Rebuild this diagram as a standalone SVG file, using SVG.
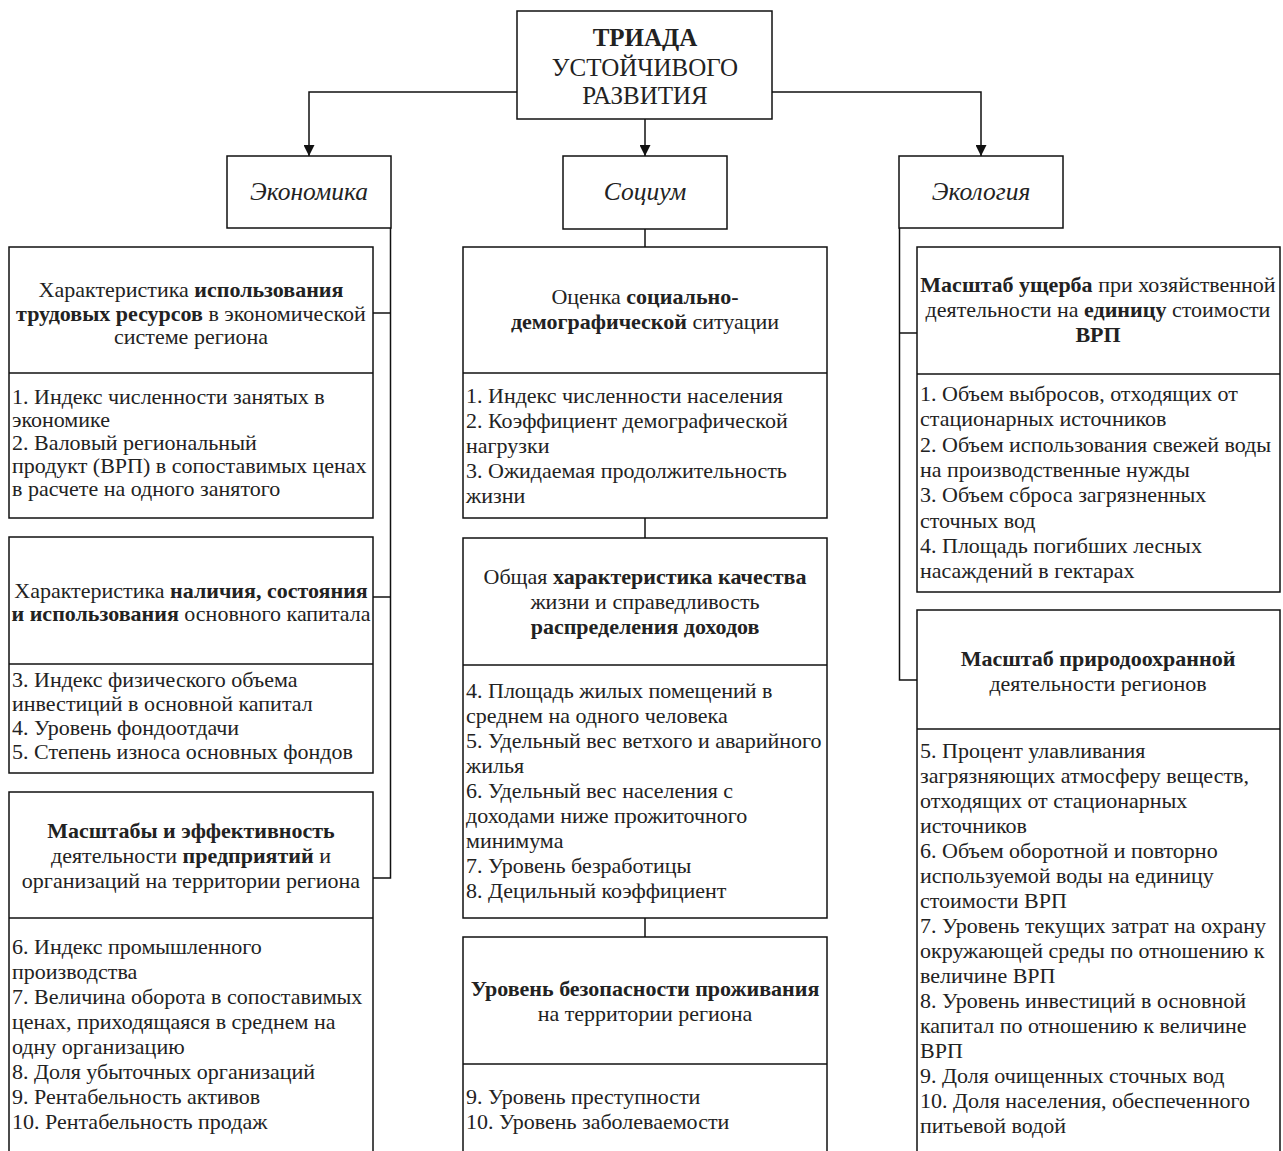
<svg xmlns="http://www.w3.org/2000/svg" width="1283" height="1151" viewBox="0 0 1283 1151">
<defs>
<style>
.box{fill:#fff;stroke:#111;stroke-width:1.5}
.div{stroke:#111;stroke-width:1.5}
.ln{fill:none;stroke:#111;stroke-width:1.5}
text{font-family:"Liberation Serif","Times New Roman",serif;fill:#222}
.t{font-size:22px;text-anchor:middle}
.i{font-size:22px}
.b{font-weight:bold}
.cat{font-size:25.5px;font-style:italic;text-anchor:middle}
.top{font-size:25px;text-anchor:middle}
</style>
<marker id="arr" viewBox="0 0 10 10" refX="10" refY="5" markerWidth="11" markerHeight="11" markerUnits="userSpaceOnUse" orient="auto">
<path d="M0,0 L10,5 L0,10 Z" fill="#111"/>
</marker>
</defs>
<rect width="1283" height="1151" fill="#fff"/>

<g id="connectors">
<path class="ln" d="M517,92 H309 V156" marker-end="url(#arr)"/>
<path class="ln" d="M645,119 V156" marker-end="url(#arr)"/>
<path class="ln" d="M772,92 H981 V156" marker-end="url(#arr)"/>
<path class="ln" d="M390.5,228 V878 H373"/>
<path class="ln" d="M373,313 H390.5"/>
<path class="ln" d="M373,597 H390.5"/>
<path class="ln" d="M645,229 V247"/>
<path class="ln" d="M645,518 V538"/>
<path class="ln" d="M645,918 V937"/>
<path class="ln" d="M899.5,228 V680 H917"/>
<path class="ln" d="M899.5,333 H917"/>
</g>

<g id="triada">
<rect class="box" x="517" y="11" width="255" height="108"/>
<text class="top b" x="645" y="46">ТРИАДА</text>
<text class="top" x="645" y="76">УСТОЙЧИВОГО</text>
<text class="top" x="645" y="104">РАЗВИТИЯ</text>
</g>

<g id="economika">
<rect class="box" x="227" y="156" width="164" height="72"/>
<text class="cat" x="309" y="200">Экономика</text>
</g>
<g id="socium">
<rect class="box" x="563" y="156" width="164" height="73"/>
<text class="cat" x="645" y="200">Социум</text>
</g>
<g id="ecologia">
<rect class="box" x="899" y="156" width="164" height="72"/>
<text class="cat" x="981" y="200">Экология</text>
</g>

<g id="econ1">
<rect class="box" x="9" y="247" width="364" height="271"/>
<line class="div" x1="9" y1="373" x2="373" y2="373"/>
<text class="t" x="191" y="297">Характеристика <tspan class="b">использования</tspan></text>
<text class="t" x="191" y="321"><tspan class="b">трудовых ресурсов</tspan> в экономической</text>
<text class="t" x="191" y="344">системе региона</text>
<text class="i" x="12" y="404">1. Индекс численности занятых в</text>
<text class="i" x="12" y="427">экономике</text>
<text class="i" x="12" y="450">2. Валовый региональный</text>
<text class="i" x="12" y="473">продукт (ВРП) в сопоставимых ценах</text>
<text class="i" x="12" y="496">в расчете на одного занятого</text>
</g>

<g id="econ2">
<rect class="box" x="9" y="537" width="364" height="236"/>
<line class="div" x1="9" y1="664" x2="373" y2="664"/>
<text class="t" x="191" y="598">Характеристика <tspan class="b">наличия, состояния</tspan></text>
<text class="t" x="191" y="621"><tspan class="b">и использования</tspan> основного капитала</text>
<text class="i" x="12" y="687">3. Индекс физического объема</text>
<text class="i" x="12" y="711">инвестиций в основной капитал</text>
<text class="i" x="12" y="735">4. Уровень фондоотдачи</text>
<text class="i" x="12" y="759">5. Степень износа основных фондов</text>
</g>

<g id="econ3">
<rect class="box" x="9" y="792" width="364" height="380"/>
<line class="div" x1="9" y1="918" x2="373" y2="918"/>
<text class="t b" x="191" y="838">Масштабы и эффективность</text>
<text class="t" x="191" y="863">деятельности <tspan class="b">предприятий</tspan> и</text>
<text class="t" x="191" y="888">организаций на территории региона</text>
<text class="i" x="12" y="954">6. Индекс промышленного</text>
<text class="i" x="12" y="979">производства</text>
<text class="i" x="12" y="1004">7. Величина оборота в сопоставимых</text>
<text class="i" x="12" y="1029">ценах, приходящаяся в среднем на</text>
<text class="i" x="12" y="1054">одну организацию</text>
<text class="i" x="12" y="1079">8. Доля убыточных организаций</text>
<text class="i" x="12" y="1104">9. Рентабельность активов</text>
<text class="i" x="12" y="1129">10. Рентабельность продаж</text>
</g>

<g id="soc1">
<rect class="box" x="463" y="247" width="364" height="271"/>
<line class="div" x1="463" y1="373" x2="827" y2="373"/>
<text class="t" x="645" y="304">Оценка <tspan class="b">социально-</tspan></text>
<text class="t" x="645" y="329"><tspan class="b">демографической</tspan> ситуации</text>
<text class="i" x="466" y="403">1. Индекс численности населения</text>
<text class="i" x="466" y="428">2. Коэффициент демографической</text>
<text class="i" x="466" y="453">нагрузки</text>
<text class="i" x="466" y="478">3. Ожидаемая продолжительность</text>
<text class="i" x="466" y="503">жизни</text>
</g>

<g id="soc2">
<rect class="box" x="463" y="538" width="364" height="380"/>
<line class="div" x1="463" y1="665" x2="827" y2="665"/>
<text class="t" x="645" y="584">Общая <tspan class="b">характеристика качества</tspan></text>
<text class="t" x="645" y="609">жизни и справедливость</text>
<text class="t b" x="645" y="634">распределения доходов</text>
<text class="i" x="466" y="698">4. Площадь жилых помещений в</text>
<text class="i" x="466" y="723">среднем на одного человека</text>
<text class="i" x="466" y="748">5. Удельный вес ветхого и аварийного</text>
<text class="i" x="466" y="773">жилья</text>
<text class="i" x="466" y="798">6. Удельный вес населения с</text>
<text class="i" x="466" y="823">доходами ниже прожиточного</text>
<text class="i" x="466" y="848">минимума</text>
<text class="i" x="466" y="873">7. Уровень безработицы</text>
<text class="i" x="466" y="898">8. Децильный коэффициент</text>
</g>

<g id="soc3">
<rect class="box" x="463" y="937" width="364" height="235"/>
<line class="div" x1="463" y1="1064" x2="827" y2="1064"/>
<text class="t" x="645" y="996"><tspan class="b">Уровень безопасности проживания</tspan></text>
<text class="t" x="645" y="1021">на территории региона</text>
<text class="i" x="466" y="1104">9. Уровень преступности</text>
<text class="i" x="466" y="1129">10. Уровень заболеваемости</text>
</g>

<g id="eco1">
<rect class="box" x="917" y="247" width="363" height="345"/>
<line class="div" x1="917" y1="374" x2="1280" y2="374"/>
<text class="t" x="1098" y="292"><tspan class="b">Масштаб ущерба</tspan> при хозяйственной</text>
<text class="t" x="1098" y="317">деятельности на <tspan class="b">единицу</tspan> стоимости</text>
<text class="t b" x="1098" y="342">ВРП</text>
<text class="i" x="920" y="401">1. Объем выбросов, отходящих от</text>
<text class="i" x="920" y="426">стационарных источников</text>
<text class="i" x="920" y="452">2. Объем использования свежей воды</text>
<text class="i" x="920" y="477">на производственные нужды</text>
<text class="i" x="920" y="502">3. Объем сброса загрязненных</text>
<text class="i" x="920" y="528">сточных вод</text>
<text class="i" x="920" y="553">4. Площадь погибших лесных</text>
<text class="i" x="920" y="578">насаждений в гектарах</text>
</g>

<g id="eco2">
<rect class="box" x="917" y="610" width="363" height="562"/>
<line class="div" x1="917" y1="729" x2="1280" y2="729"/>
<text class="t b" x="1098" y="666">Масштаб природоохранной</text>
<text class="t" x="1098" y="691">деятельности регионов</text>
<text class="i" x="920" y="758">5. Процент улавливания</text>
<text class="i" x="920" y="783">загрязняющих атмосферу веществ,</text>
<text class="i" x="920" y="808">отходящих от стационарных</text>
<text class="i" x="920" y="833">источников</text>
<text class="i" x="920" y="858">6. Объем оборотной и повторно</text>
<text class="i" x="920" y="883">используемой воды на единицу</text>
<text class="i" x="920" y="908">стоимости ВРП</text>
<text class="i" x="920" y="933">7. Уровень текущих затрат на охрану</text>
<text class="i" x="920" y="958">окружающей среды по отношению к</text>
<text class="i" x="920" y="983">величине ВРП</text>
<text class="i" x="920" y="1008">8. Уровень инвестиций в основной</text>
<text class="i" x="920" y="1033">капитал по отношению к величине</text>
<text class="i" x="920" y="1058">ВРП</text>
<text class="i" x="920" y="1083">9. Доля очищенных сточных вод</text>
<text class="i" x="920" y="1108">10. Доля населения, обеспеченного</text>
<text class="i" x="920" y="1133">питьевой водой</text>
</g>
</svg>
